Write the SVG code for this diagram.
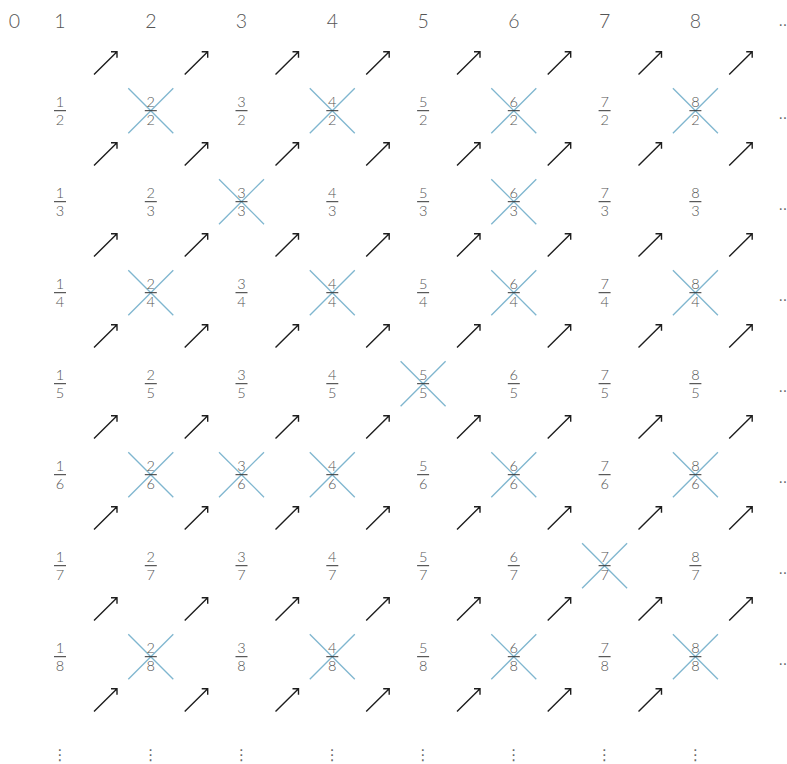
<svg xmlns="http://www.w3.org/2000/svg" width="787" height="764" viewBox="0 0 787 764">
<style>
text{font-family:Lato,"Liberation Sans","DejaVu Sans",sans-serif;font-weight:300;fill:#555;text-anchor:middle}
.h{font-size:19.5px}
.n{font-size:14.5px}
.bar{stroke:#333;stroke-width:1}
.x line{stroke:#7fb6cf;stroke-width:1.3}
.arr{fill:none;stroke:#1e1e1e;stroke-width:1.4;stroke-linecap:butt}
.d{font-family:"DejaVu Sans",sans-serif;font-weight:400;font-size:14px;fill:#666;text-anchor:start}
.v{font-family:"DejaVu Sans",sans-serif;font-weight:400;font-size:15px;fill:#666}
</style>
<defs>
<path id="a" class="arr" d="M-11.5,11.3 L11.5,-11.5 M5.5,-11.5 H11.5 V-5.5"/>
<g id="x" class="x"><line x1="-22.5" y1="-22.5" x2="22.5" y2="22.5"/><line x1="-22.5" y1="22.5" x2="22.5" y2="-22.5"/></g>
</defs>
<g id="header">
<text class="h" x="14.5" y="27.7">0</text>
<text class="h" x="60" y="27.7">1</text>
<text class="h" x="150.8" y="27.7">2</text>
<text class="h" x="241.5" y="27.7">3</text>
<text class="h" x="332.3" y="27.7">4</text>
<text class="h" x="423.1" y="27.7">5</text>
<text class="h" x="513.8" y="27.7">6</text>
<text class="h" x="604.6" y="27.7">7</text>
<text class="h" x="695.4" y="27.7">8</text>
<text class="d" x="778.4" y="25.5">..</text>
</g>
<g id="connectors">
<use href="#a" x="105.5" y="63.2"/><use href="#a" x="196.2" y="63.2"/><use href="#a" x="287" y="63.2"/><use href="#a" x="377.7" y="63.2"/><use href="#a" x="468.5" y="63.2"/><use href="#a" x="559.2" y="63.2"/><use href="#a" x="650" y="63.2"/><use href="#a" x="740.7" y="63.2"/>
<use href="#a" x="105.5" y="154.2"/><use href="#a" x="196.2" y="154.2"/><use href="#a" x="287" y="154.2"/><use href="#a" x="377.7" y="154.2"/><use href="#a" x="468.5" y="154.2"/><use href="#a" x="559.2" y="154.2"/><use href="#a" x="650" y="154.2"/><use href="#a" x="740.7" y="154.2"/>
<use href="#a" x="105.5" y="245.2"/><use href="#a" x="196.2" y="245.2"/><use href="#a" x="287" y="245.2"/><use href="#a" x="377.7" y="245.2"/><use href="#a" x="468.5" y="245.2"/><use href="#a" x="559.2" y="245.2"/><use href="#a" x="650" y="245.2"/><use href="#a" x="740.7" y="245.2"/>
<use href="#a" x="105.5" y="336.2"/><use href="#a" x="196.2" y="336.2"/><use href="#a" x="287" y="336.2"/><use href="#a" x="377.7" y="336.2"/><use href="#a" x="468.5" y="336.2"/><use href="#a" x="559.2" y="336.2"/><use href="#a" x="650" y="336.2"/><use href="#a" x="740.7" y="336.2"/>
<use href="#a" x="105.5" y="427.2"/><use href="#a" x="196.2" y="427.2"/><use href="#a" x="287" y="427.2"/><use href="#a" x="377.7" y="427.2"/><use href="#a" x="468.5" y="427.2"/><use href="#a" x="559.2" y="427.2"/><use href="#a" x="650" y="427.2"/><use href="#a" x="740.7" y="427.2"/>
<use href="#a" x="105.5" y="518.2"/><use href="#a" x="196.2" y="518.2"/><use href="#a" x="287" y="518.2"/><use href="#a" x="377.7" y="518.2"/><use href="#a" x="468.5" y="518.2"/><use href="#a" x="559.2" y="518.2"/><use href="#a" x="650" y="518.2"/><use href="#a" x="740.7" y="518.2"/>
<use href="#a" x="105.5" y="609.2"/><use href="#a" x="196.2" y="609.2"/><use href="#a" x="287" y="609.2"/><use href="#a" x="377.7" y="609.2"/><use href="#a" x="468.5" y="609.2"/><use href="#a" x="559.2" y="609.2"/><use href="#a" x="650" y="609.2"/><use href="#a" x="740.7" y="609.2"/>
<use href="#a" x="105.5" y="700.2"/><use href="#a" x="196.2" y="700.2"/><use href="#a" x="287" y="700.2"/><use href="#a" x="377.7" y="700.2"/><use href="#a" x="468.5" y="700.2"/><use href="#a" x="559.2" y="700.2"/><use href="#a" x="650" y="700.2"/>
</g>
<g id="crosses">
<use href="#x" x="150.8" y="110.7"/><use href="#x" x="332.3" y="110.7"/><use href="#x" x="513.8" y="110.7"/><use href="#x" x="695.4" y="110.7"/>
<use href="#x" x="241.5" y="201.7"/><use href="#x" x="513.8" y="201.7"/>
<use href="#x" x="150.8" y="292.7"/><use href="#x" x="332.3" y="292.7"/><use href="#x" x="513.8" y="292.7"/><use href="#x" x="695.4" y="292.7"/>
<use href="#x" x="423.1" y="383.7"/>
<use href="#x" x="150.8" y="474.7"/><use href="#x" x="241.5" y="474.7"/><use href="#x" x="332.3" y="474.7"/><use href="#x" x="513.8" y="474.7"/><use href="#x" x="695.4" y="474.7"/>
<use href="#x" x="604.6" y="565.7"/>
<use href="#x" x="150.8" y="656.7"/><use href="#x" x="332.3" y="656.7"/><use href="#x" x="513.8" y="656.7"/><use href="#x" x="695.4" y="656.7"/>
</g>
<g id="r2" transform="translate(0,110.7)">
<g id="f1_2" transform="translate(60,0)"><text class="n" y="-4">1</text><line class="bar" x1="-6" x2="6"/><text class="n" y="14">2</text></g>
<g id="f2_2" transform="translate(150.8,0)"><text class="n" y="-4">2</text><line class="bar" x1="-6" x2="6"/><text class="n" y="14">2</text></g>
<g id="f3_2" transform="translate(241.5,0)"><text class="n" y="-4">3</text><line class="bar" x1="-6" x2="6"/><text class="n" y="14">2</text></g>
<g id="f4_2" transform="translate(332.3,0)"><text class="n" y="-4">4</text><line class="bar" x1="-6" x2="6"/><text class="n" y="14">2</text></g>
<g id="f5_2" transform="translate(423.1,0)"><text class="n" y="-4">5</text><line class="bar" x1="-6" x2="6"/><text class="n" y="14">2</text></g>
<g id="f6_2" transform="translate(513.8,0)"><text class="n" y="-4">6</text><line class="bar" x1="-6" x2="6"/><text class="n" y="14">2</text></g>
<g id="f7_2" transform="translate(604.6,0)"><text class="n" y="-4">7</text><line class="bar" x1="-6" x2="6"/><text class="n" y="14">2</text></g>
<g id="f8_2" transform="translate(695.4,0)"><text class="n" y="-4">8</text><line class="bar" x1="-6" x2="6"/><text class="n" y="14">2</text></g>
<text class="d" x="778.4" y="8">..</text>
</g>
<g id="r3" transform="translate(0,201.7)">
<g id="f1_3" transform="translate(60,0)"><text class="n" y="-4">1</text><line class="bar" x1="-6" x2="6"/><text class="n" y="14">3</text></g>
<g id="f2_3" transform="translate(150.8,0)"><text class="n" y="-4">2</text><line class="bar" x1="-6" x2="6"/><text class="n" y="14">3</text></g>
<g id="f3_3" transform="translate(241.5,0)"><text class="n" y="-4">3</text><line class="bar" x1="-6" x2="6"/><text class="n" y="14">3</text></g>
<g id="f4_3" transform="translate(332.3,0)"><text class="n" y="-4">4</text><line class="bar" x1="-6" x2="6"/><text class="n" y="14">3</text></g>
<g id="f5_3" transform="translate(423.1,0)"><text class="n" y="-4">5</text><line class="bar" x1="-6" x2="6"/><text class="n" y="14">3</text></g>
<g id="f6_3" transform="translate(513.8,0)"><text class="n" y="-4">6</text><line class="bar" x1="-6" x2="6"/><text class="n" y="14">3</text></g>
<g id="f7_3" transform="translate(604.6,0)"><text class="n" y="-4">7</text><line class="bar" x1="-6" x2="6"/><text class="n" y="14">3</text></g>
<g id="f8_3" transform="translate(695.4,0)"><text class="n" y="-4">8</text><line class="bar" x1="-6" x2="6"/><text class="n" y="14">3</text></g>
<text class="d" x="778.4" y="8">..</text>
</g>
<g id="r4" transform="translate(0,292.7)">
<g id="f1_4" transform="translate(60,0)"><text class="n" y="-4">1</text><line class="bar" x1="-6" x2="6"/><text class="n" y="14">4</text></g>
<g id="f2_4" transform="translate(150.8,0)"><text class="n" y="-4">2</text><line class="bar" x1="-6" x2="6"/><text class="n" y="14">4</text></g>
<g id="f3_4" transform="translate(241.5,0)"><text class="n" y="-4">3</text><line class="bar" x1="-6" x2="6"/><text class="n" y="14">4</text></g>
<g id="f4_4" transform="translate(332.3,0)"><text class="n" y="-4">4</text><line class="bar" x1="-6" x2="6"/><text class="n" y="14">4</text></g>
<g id="f5_4" transform="translate(423.1,0)"><text class="n" y="-4">5</text><line class="bar" x1="-6" x2="6"/><text class="n" y="14">4</text></g>
<g id="f6_4" transform="translate(513.8,0)"><text class="n" y="-4">6</text><line class="bar" x1="-6" x2="6"/><text class="n" y="14">4</text></g>
<g id="f7_4" transform="translate(604.6,0)"><text class="n" y="-4">7</text><line class="bar" x1="-6" x2="6"/><text class="n" y="14">4</text></g>
<g id="f8_4" transform="translate(695.4,0)"><text class="n" y="-4">8</text><line class="bar" x1="-6" x2="6"/><text class="n" y="14">4</text></g>
<text class="d" x="778.4" y="8">..</text>
</g>
<g id="r5" transform="translate(0,383.7)">
<g id="f1_5" transform="translate(60,0)"><text class="n" y="-4">1</text><line class="bar" x1="-6" x2="6"/><text class="n" y="14">5</text></g>
<g id="f2_5" transform="translate(150.8,0)"><text class="n" y="-4">2</text><line class="bar" x1="-6" x2="6"/><text class="n" y="14">5</text></g>
<g id="f3_5" transform="translate(241.5,0)"><text class="n" y="-4">3</text><line class="bar" x1="-6" x2="6"/><text class="n" y="14">5</text></g>
<g id="f4_5" transform="translate(332.3,0)"><text class="n" y="-4">4</text><line class="bar" x1="-6" x2="6"/><text class="n" y="14">5</text></g>
<g id="f5_5" transform="translate(423.1,0)"><text class="n" y="-4">5</text><line class="bar" x1="-6" x2="6"/><text class="n" y="14">5</text></g>
<g id="f6_5" transform="translate(513.8,0)"><text class="n" y="-4">6</text><line class="bar" x1="-6" x2="6"/><text class="n" y="14">5</text></g>
<g id="f7_5" transform="translate(604.6,0)"><text class="n" y="-4">7</text><line class="bar" x1="-6" x2="6"/><text class="n" y="14">5</text></g>
<g id="f8_5" transform="translate(695.4,0)"><text class="n" y="-4">8</text><line class="bar" x1="-6" x2="6"/><text class="n" y="14">5</text></g>
<text class="d" x="778.4" y="8">..</text>
</g>
<g id="r6" transform="translate(0,474.7)">
<g id="f1_6" transform="translate(60,0)"><text class="n" y="-4">1</text><line class="bar" x1="-6" x2="6"/><text class="n" y="14">6</text></g>
<g id="f2_6" transform="translate(150.8,0)"><text class="n" y="-4">2</text><line class="bar" x1="-6" x2="6"/><text class="n" y="14">6</text></g>
<g id="f3_6" transform="translate(241.5,0)"><text class="n" y="-4">3</text><line class="bar" x1="-6" x2="6"/><text class="n" y="14">6</text></g>
<g id="f4_6" transform="translate(332.3,0)"><text class="n" y="-4">4</text><line class="bar" x1="-6" x2="6"/><text class="n" y="14">6</text></g>
<g id="f5_6" transform="translate(423.1,0)"><text class="n" y="-4">5</text><line class="bar" x1="-6" x2="6"/><text class="n" y="14">6</text></g>
<g id="f6_6" transform="translate(513.8,0)"><text class="n" y="-4">6</text><line class="bar" x1="-6" x2="6"/><text class="n" y="14">6</text></g>
<g id="f7_6" transform="translate(604.6,0)"><text class="n" y="-4">7</text><line class="bar" x1="-6" x2="6"/><text class="n" y="14">6</text></g>
<g id="f8_6" transform="translate(695.4,0)"><text class="n" y="-4">8</text><line class="bar" x1="-6" x2="6"/><text class="n" y="14">6</text></g>
<text class="d" x="778.4" y="8">..</text>
</g>
<g id="r7" transform="translate(0,565.7)">
<g id="f1_7" transform="translate(60,0)"><text class="n" y="-4">1</text><line class="bar" x1="-6" x2="6"/><text class="n" y="14">7</text></g>
<g id="f2_7" transform="translate(150.8,0)"><text class="n" y="-4">2</text><line class="bar" x1="-6" x2="6"/><text class="n" y="14">7</text></g>
<g id="f3_7" transform="translate(241.5,0)"><text class="n" y="-4">3</text><line class="bar" x1="-6" x2="6"/><text class="n" y="14">7</text></g>
<g id="f4_7" transform="translate(332.3,0)"><text class="n" y="-4">4</text><line class="bar" x1="-6" x2="6"/><text class="n" y="14">7</text></g>
<g id="f5_7" transform="translate(423.1,0)"><text class="n" y="-4">5</text><line class="bar" x1="-6" x2="6"/><text class="n" y="14">7</text></g>
<g id="f6_7" transform="translate(513.8,0)"><text class="n" y="-4">6</text><line class="bar" x1="-6" x2="6"/><text class="n" y="14">7</text></g>
<g id="f7_7" transform="translate(604.6,0)"><text class="n" y="-4">7</text><line class="bar" x1="-6" x2="6"/><text class="n" y="14">7</text></g>
<g id="f8_7" transform="translate(695.4,0)"><text class="n" y="-4">8</text><line class="bar" x1="-6" x2="6"/><text class="n" y="14">7</text></g>
<text class="d" x="778.4" y="8">..</text>
</g>
<g id="r8" transform="translate(0,656.7)">
<g id="f1_8" transform="translate(60,0)"><text class="n" y="-4">1</text><line class="bar" x1="-6" x2="6"/><text class="n" y="14">8</text></g>
<g id="f2_8" transform="translate(150.8,0)"><text class="n" y="-4">2</text><line class="bar" x1="-6" x2="6"/><text class="n" y="14">8</text></g>
<g id="f3_8" transform="translate(241.5,0)"><text class="n" y="-4">3</text><line class="bar" x1="-6" x2="6"/><text class="n" y="14">8</text></g>
<g id="f4_8" transform="translate(332.3,0)"><text class="n" y="-4">4</text><line class="bar" x1="-6" x2="6"/><text class="n" y="14">8</text></g>
<g id="f5_8" transform="translate(423.1,0)"><text class="n" y="-4">5</text><line class="bar" x1="-6" x2="6"/><text class="n" y="14">8</text></g>
<g id="f6_8" transform="translate(513.8,0)"><text class="n" y="-4">6</text><line class="bar" x1="-6" x2="6"/><text class="n" y="14">8</text></g>
<g id="f7_8" transform="translate(604.6,0)"><text class="n" y="-4">7</text><line class="bar" x1="-6" x2="6"/><text class="n" y="14">8</text></g>
<g id="f8_8" transform="translate(695.4,0)"><text class="n" y="-4">8</text><line class="bar" x1="-6" x2="6"/><text class="n" y="14">8</text></g>
<text class="d" x="778.4" y="8">..</text>
</g>
<g id="vdots">
<text class="v" x="60" y="760">⋮</text>
<text class="v" x="150.8" y="760">⋮</text>
<text class="v" x="241.5" y="760">⋮</text>
<text class="v" x="332.3" y="760">⋮</text>
<text class="v" x="423.1" y="760">⋮</text>
<text class="v" x="513.8" y="760">⋮</text>
<text class="v" x="604.6" y="760">⋮</text>
<text class="v" x="695.4" y="760">⋮</text>
</g>
</svg>
